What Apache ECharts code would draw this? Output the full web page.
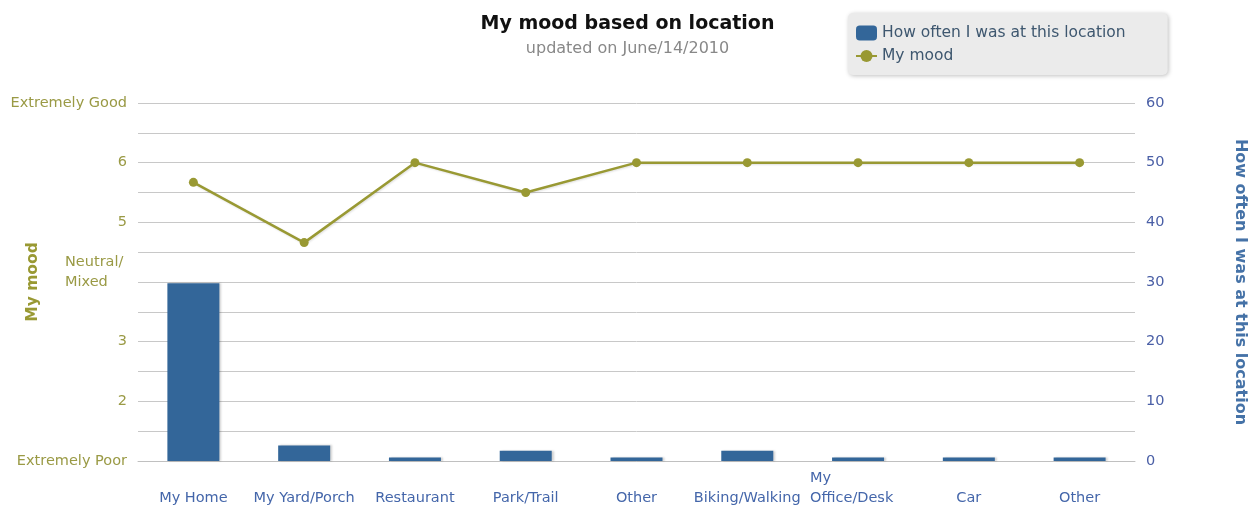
<!DOCTYPE html>
<html>
<head>
<meta charset="utf-8">
<script src="https://cdn.jsdelivr.net/npm/echarts@6/dist/echarts.min.js"></script>
<style>
	html, body { margin: 0; padding: 0; background: #fff; }
	#moodChart { width: 1255px; height: 506px; }
</style>
</head>
<body>
<div id="moodChart"></div>
<script>
// locations (x axis)
var locations = [ 'My Home', 'My Yard/Porch', 'Restaurant', 'Park/Trail', 'Other', 'Biking/Walking', 'My Office/Desk', 'Car', 'Other' ];
// how often I was at this location (right axis)
var visitCounts = [ 29.8, 2.6, 0.6, 1.7, 0.6, 1.7, 0.6, 0.6, 0.6 ];
// my mood (left axis, 1 = extremely poor, 7 = extremely good)
var moodValues = [ 5.67, 4.66, 6, 5.5, 6, 6, 6, 6, 6 ];
// named mood ticks
var moodTickNames = { 1 : 'Extremely Poor', 4 : 'Neutral/Mixed', 7 : 'Extremely Good' };

var fontFamily = 'DejaVu Sans';
var olive = '#999933';
var blue = '#336699';

var moodChart = echarts.init(document.getElementById('moodChart'));
moodChart.setOption({
	animation : false,
	textStyle : {
		fontFamily : fontFamily
	},
	title : {
		text : 'My mood based on location',
		subtext : 'updated on June/14/2010',
		left : 'center',
		top : 10,
		itemGap : 7,
		textStyle : {
			fontFamily : fontFamily,
			fontSize : 19,
			fontWeight : 'bold',
			color : '#111'
		},
		subtextStyle : {
			fontFamily : fontFamily,
			fontSize : 16,
			color : '#888'
		}
	},
	legend : {
		orient : 'vertical',
		left : 848,
		top : 13,
		padding : [ 12, 42, 11, 7 ],
		itemGap : 7,
		itemWidth : 21,
		itemHeight : 15,
		backgroundColor : '#ebebeb',
		borderRadius : 5,
		shadowColor : 'rgba(0,0,0,0.25)',
		shadowBlur : 4,
		shadowOffsetX : 1,
		shadowOffsetY : 1,
		textStyle : {
			fontFamily : fontFamily,
			fontSize : 15.5,
			color : '#3e576f'
		},
		data : [ {
			name : 'How often I was at this location',
			icon : 'roundRect'
		}, {
			name : 'My mood'
		} ]
	},
	grid : {
		left : 138,
		right : 120,
		top : 103,
		bottom : 45,
		outerBoundsMode : 'none'
	},
	xAxis : {
		type : 'category',
		data : locations,
		axisLine : {
			lineStyle : {
				color : '#c0c0c0'
			}
		},
		axisTick : {
			length : 6,
			lineStyle : {
				color : '#c0c0c0'
			}
		},
		axisLabel : {
			interval : 0,
			margin : 47,
			verticalAlign : 'bottom',
			lineHeight : 20,
			fontFamily : fontFamily,
			fontSize : 14.5,
			color : '#4466aa',
			formatter : function(value) {
				if (value === 'My Office/Desk') {
					return '{w|My}\n{w|Office/Desk}';
				}
				return value;
			},
			rich : {
				w : {
					width : 96,
					align : 'left',
					lineHeight : 20,
					fontFamily : fontFamily,
					fontSize : 14.5,
					color : '#4466aa'
				}
			}
		}
	},
	yAxis : [ {
		type : 'value',
		name : 'My mood',
		nameLocation : 'middle',
		nameRotate : 90,
		nameGap : 97,
		nameMoveOverlap : false,
		nameTextStyle : {
			fontFamily : fontFamily,
			fontSize : 15.5,
			fontWeight : 'bold',
			color : olive
		},
		min : 1,
		max : 7,
		interval : 1,
		axisLine : {
			show : false
		},
		axisTick : {
			show : false
		},
		splitLine : {
			lineStyle : {
				color : '#c8c8c8'
			}
		},
		minorTick : {
			show : false,
			splitNumber : 2
		},
		minorSplitLine : {
			show : true,
			lineStyle : {
				color : '#c8c8c8'
			}
		},
		axisLabel : {
			margin : 11,
			fontFamily : fontFamily,
			fontSize : 14.5,
			color : '#9a9a45',
			formatter : function(value) {
				if (value === 4) {
					return '{n|Neutral/}\n{n|Mixed}\n{n| }';
				}
				return moodTickNames[value] || value;
			},
			rich : {
				n : {
					width : 62,
					align : 'left',
					lineHeight : 20,
					fontFamily : fontFamily,
					fontSize : 14.5,
					color : '#9a9a45'
				}
			}
		}
	}, {
		type : 'value',
		name : 'How often I was at this location',
		nameLocation : 'middle',
		nameRotate : -90,
		nameGap : 97,
		nameMoveOverlap : false,
		nameTextStyle : {
			fontFamily : fontFamily,
			fontSize : 16,
			fontWeight : 'bold',
			color : '#4572a7'
		},
		min : 0,
		max : 60,
		interval : 10,
		axisLine : {
			show : false
		},
		axisTick : {
			show : false
		},
		splitLine : {
			show : false
		},
		axisLabel : {
			margin : 11,
			fontFamily : fontFamily,
			fontSize : 14.5,
			color : '#4a5fa6'
		}
	} ],
	series : [ {
		name : 'How often I was at this location',
		type : 'bar',
		yAxisIndex : 1,
		barWidth : 52,
		data : visitCounts,
		itemStyle : {
			color : blue,
			shadowColor : 'rgba(0,0,0,0.18)',
			shadowBlur : 2,
			shadowOffsetX : 2,
			shadowOffsetY : 0
		}
	}, {
		name : 'My mood',
		type : 'line',
		yAxisIndex : 0,
		data : moodValues,
		symbol : 'circle',
		symbolSize : 9,
		z : 5,
		lineStyle : {
			color : olive,
			width : 2.5,
			shadowColor : 'rgba(0,0,0,0.12)',
			shadowBlur : 2,
			shadowOffsetX : 1,
			shadowOffsetY : 1
		},
		itemStyle : {
			color : olive
		}
	} ]
});
</script>
</body>
</html>
